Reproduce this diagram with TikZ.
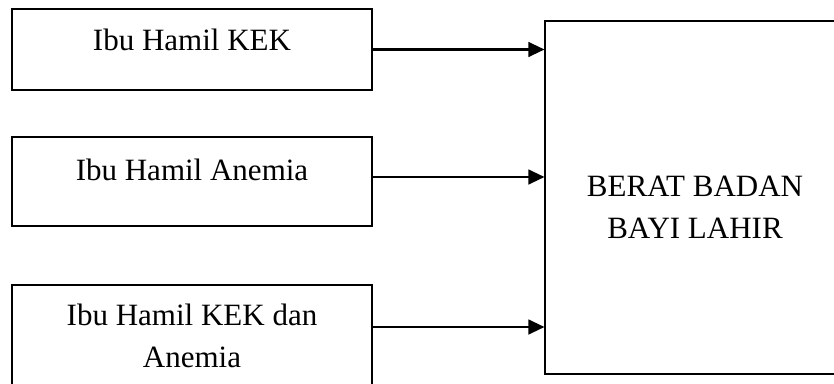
\documentclass[tikz,border=0pt]{standalone}
\usepackage{fontspec}
\setmainfont{Liberation Serif}
\usetikzlibrary{arrows.meta,calc,positioning}

\begin{document}
\begin{tikzpicture}[x=0.75pt,y=0.75pt,
      factor/.style={rectangle,draw=black,line width=0.8pt,
        minimum width=270pt,inner sep=0pt},
      outcome/.style={rectangle,draw=black,line width=0.8pt,
        minimum width=225pt,minimum height=264.75pt,inner sep=0pt},
      boxtext/.style={font=\fontsize{23.25}{31.5}\selectfont,
        align=center,inner sep=0pt},
      link/.style={-{Triangle[length=12pt,width=11pt]},line width=1.6pt}
    ]
      \useasboundingbox (0,0) rectangle (834,383);
      \clip (0,0) rectangle (834,383);
      % faktor ibu hamil
      \node[factor,minimum height=60.75pt] (kek) at (192,333.5) {};
      \node[factor,minimum height=66.75pt] (anemia) at (192,201.5) {};
      \node[factor,minimum height=108.75pt] (kekanemia) at (192,25.5) {};
      \node[boxtext,anchor=base] (kek-t) at (192,333) {Ibu Hamil KEK};
      \node[boxtext,anchor=base] (anemia-t) at (192,203) {Ibu Hamil Anemia};
      \node[boxtext,anchor=base] (kekanemia-t) at (192,16) {Ibu Hamil KEK dan\\Anemia};
      % berat badan bayi
      \node[outcome] (bblahir) at (695,185.5) {};
      \node[boxtext,anchor=base] (bblahir-t) at (695,145) {BERAT BADAN\\BAYI LAHIR};
      \draw[link] (kek.east) -- (kek.east -| bblahir.west);
      \draw[link] (anemia.east |- 0,206) -- (bblahir.west |- 0,206);
      \draw[link] (kekanemia.east |- 0,56) -- (bblahir.west |- 0,56);
    \end{tikzpicture}
\end{document}
